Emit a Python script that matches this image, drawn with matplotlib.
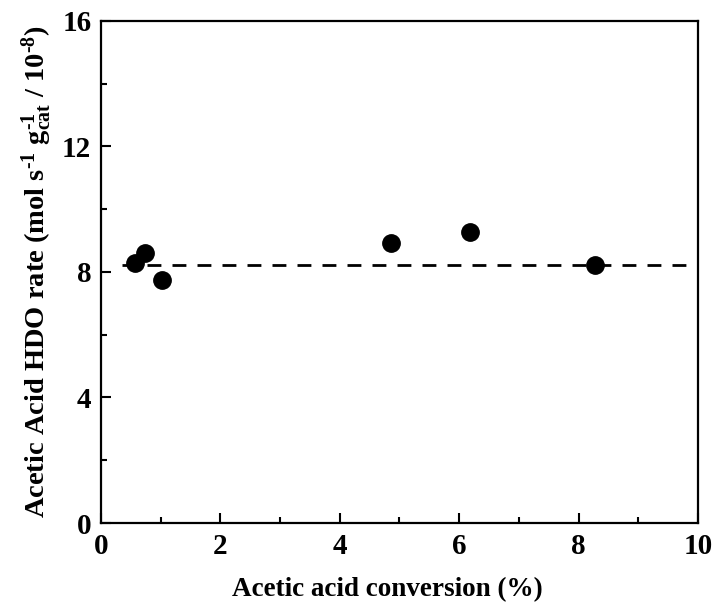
import matplotlib
matplotlib.use("Agg")
import matplotlib.pyplot as plt
from matplotlib.ticker import MultipleLocator

conversion = [0.57, 0.74, 1.02, 4.85, 6.18, 8.27]
hdo_rate = [8.27, 8.61, 7.74, 8.93, 9.26, 8.22]
avg_rate = 8.22
avg_x = [0.35, 10.0]

plt.rcParams['font.family'] = ['Liberation Serif', 'DejaVu Serif']
plt.rcParams['font.weight'] = 'bold'
plt.rcParams['mathtext.fontset'] = 'custom'
plt.rcParams['mathtext.rm'] = 'Liberation Serif:bold'
plt.rcParams['mathtext.it'] = 'Liberation Serif:italic:bold'
plt.rcParams['mathtext.bf'] = 'Liberation Serif:bold'

fig = plt.figure(figsize=(7.14, 6.05), dpi=100)
ax = fig.add_axes([0.1415, 0.1355, 0.836, 0.83])

ax.plot(avg_x, [avg_rate, avg_rate], color='black', lw=2, dashes=(5, 4))
ax.plot(conversion, hdo_rate, 'o', color='black', markersize=12.5, zorder=3)

ax.set_xlim(0, 10)
ax.set_ylim(0, 16)
ax.xaxis.set_major_locator(MultipleLocator(2))
ax.xaxis.set_minor_locator(MultipleLocator(1))
ax.yaxis.set_major_locator(MultipleLocator(4))
ax.yaxis.set_minor_locator(MultipleLocator(2))
ax.tick_params(which='major', direction='in', length=7, width=1.5, labelsize=21, pad=7)
ax.tick_params(which='minor', direction='in', length=4, width=1.5)
for s in ax.spines.values():
    s.set_linewidth(1.6)
for lab in ax.get_xticklabels() + ax.get_yticklabels():
    lab.set_fontweight('bold')

ax.set_xlabel('Acetic acid conversion (%)', fontsize=19.5, fontweight='bold')
ax.xaxis.set_label_coords(0.48, -0.108)
ax.set_ylabel(r'Acetic Acid HDO rate (mol s$^{\text{-1}}$ g$_{\mathrm{cat}}^{\text{-1}}$ / 10$^{\text{-8}}$)',
              fontsize=20.5, fontweight='bold', labelpad=6)

fig.savefig('out.png', dpi=100)
